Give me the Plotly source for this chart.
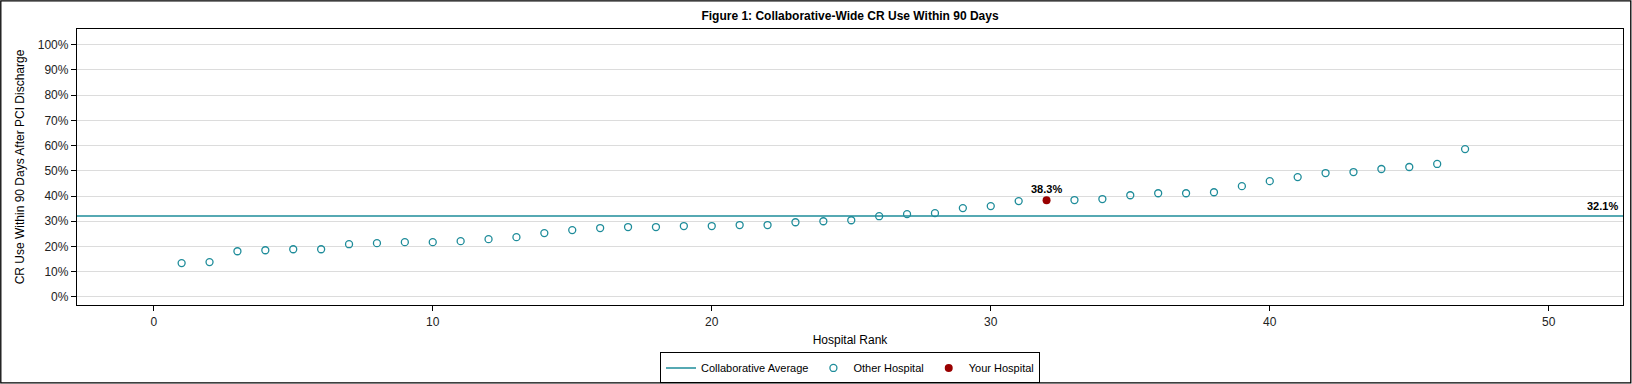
import plotly.graph_objects as go

# ---- data ----
other_rank = list(range(1, 32)) + list(range(33, 48))
other_pct = [13.4, 13.8, 18.1, 18.5, 18.9, 18.9, 20.9, 21.3, 21.7, 21.7,
             22.1, 22.9, 23.7, 25.3, 26.5, 27.3, 27.7, 27.7, 28.1, 28.1,
             28.5, 28.5, 29.6, 30.0, 30.4, 32.0, 32.8, 33.2, 35.2, 36.0,
             38.0,
             38.4, 38.8, 40.3, 41.1, 41.1, 41.5, 43.9, 45.9, 47.5, 49.1,
             49.5, 50.7, 51.5, 52.7, 58.6]
your_rank = [32]
your_pct = [38.3]
avg_pct = 32.1

x_ticks = [0, 10, 20, 30, 40, 50]
y_ticks = [0, 10, 20, 30, 40, 50, 60, 70, 80, 90, 100]
y_ticklabels = [f"{v}%" for v in y_ticks]

title = "Figure 1: Collaborative-Wide CR Use Within 90 Days"
x_title = "Hospital Rank"
y_title = "CR Use Within 90 Days After PCI Discharge"

# ---- style ----
TEAL = "#1E8C9A"
RED = "#990000"
FONT = "Liberation Sans, Arial, sans-serif"
W, H = 1632, 384
ML, MR, MT, MB = 77, 9, 29, 79
x_range = [-2.75, 52.66]
y_range = [-3.2, 106.2]

fig = go.Figure()

fig.add_trace(go.Scatter(
    x=x_range, y=[avg_pct, avg_pct], mode="lines",
    line=dict(color=TEAL, width=1.5), name="Collaborative Average",
    hoverinfo="skip"))

fig.add_trace(go.Scatter(
    x=other_rank, y=other_pct, mode="markers", name="Other Hospital",
    marker=dict(symbol="circle-open", size=7, color=TEAL,
                line=dict(color=TEAL, width=1.3))))

fig.add_trace(go.Scatter(
    x=your_rank, y=your_pct, mode="markers", name="Your Hospital",
    marker=dict(symbol="circle", size=8, color=RED)))

fig.add_annotation(x=your_rank[0], y=your_pct[0], text=f"<b>{your_pct[0]:.1f}%</b>",
                   showarrow=False, yshift=11, font=dict(size=11, color="#000"))
fig.add_annotation(x=1, xref="paper", xanchor="right", xshift=-3,
                   y=avg_pct, text=f"<b>{avg_pct:.1f}%</b>",
                   showarrow=False, yshift=10, font=dict(size=11, color="#000"))

# outer frame of the whole image
pw = W - ML - MR
ph = H - MT - MB
fig.add_shape(type="rect", xref="paper", yref="paper",
              x0=(0.8 - ML) / pw, x1=(W - 1.2 - ML) / pw,
              y0=(1.2 - MB) / ph, y1=(H - MB - 0.8) / ph,
              line=dict(color="black", width=1.3), fillcolor="rgba(0,0,0,0)",
              layer="above")

fig.update_layout(
    width=W, height=H,
    margin=dict(l=ML, r=MR, t=MT, b=MB, autoexpand=False),
    paper_bgcolor="white", plot_bgcolor="white",
    font=dict(family=FONT, size=12, color="#222"),
    title=dict(text=f"<b>{title}</b>", x=(ML + pw / 2) / W, xanchor="center",
               y=1 - 16 / H, yanchor="middle", font=dict(size=12, color="#000")),
    showlegend=True,
    legend=dict(orientation="h", x=0.5, xanchor="center", y=-0.172, yanchor="top",
                bordercolor="black", borderwidth=1, font=dict(size=11, color="#000"),
                itemwidth=30, tracegroupgap=0, bgcolor="white"),
    xaxis=dict(range=x_range, tickvals=x_ticks, showgrid=False, zeroline=False,
               showline=True, linecolor="black", linewidth=1.3, mirror=True,
               ticks="outside", ticklen=5, tickcolor="black",
               title=dict(text=x_title, standoff=8, font=dict(size=12, color="#000"))),
    yaxis=dict(range=y_range, tickvals=y_ticks, ticktext=y_ticklabels,
               showgrid=True, gridcolor="#DCDCDC", gridwidth=1, zeroline=False,
               showline=True, linecolor="black", linewidth=1.3, mirror=True,
               ticks="outside", ticklen=5, tickcolor="black",
               title=dict(text=y_title, standoff=10, font=dict(size=12, color="#000"))),
)

fig.write_html("out.html", config={"displayModeBar": False},
               post_script="document.body.style.margin='0';document.body.style.overflow='hidden';")
